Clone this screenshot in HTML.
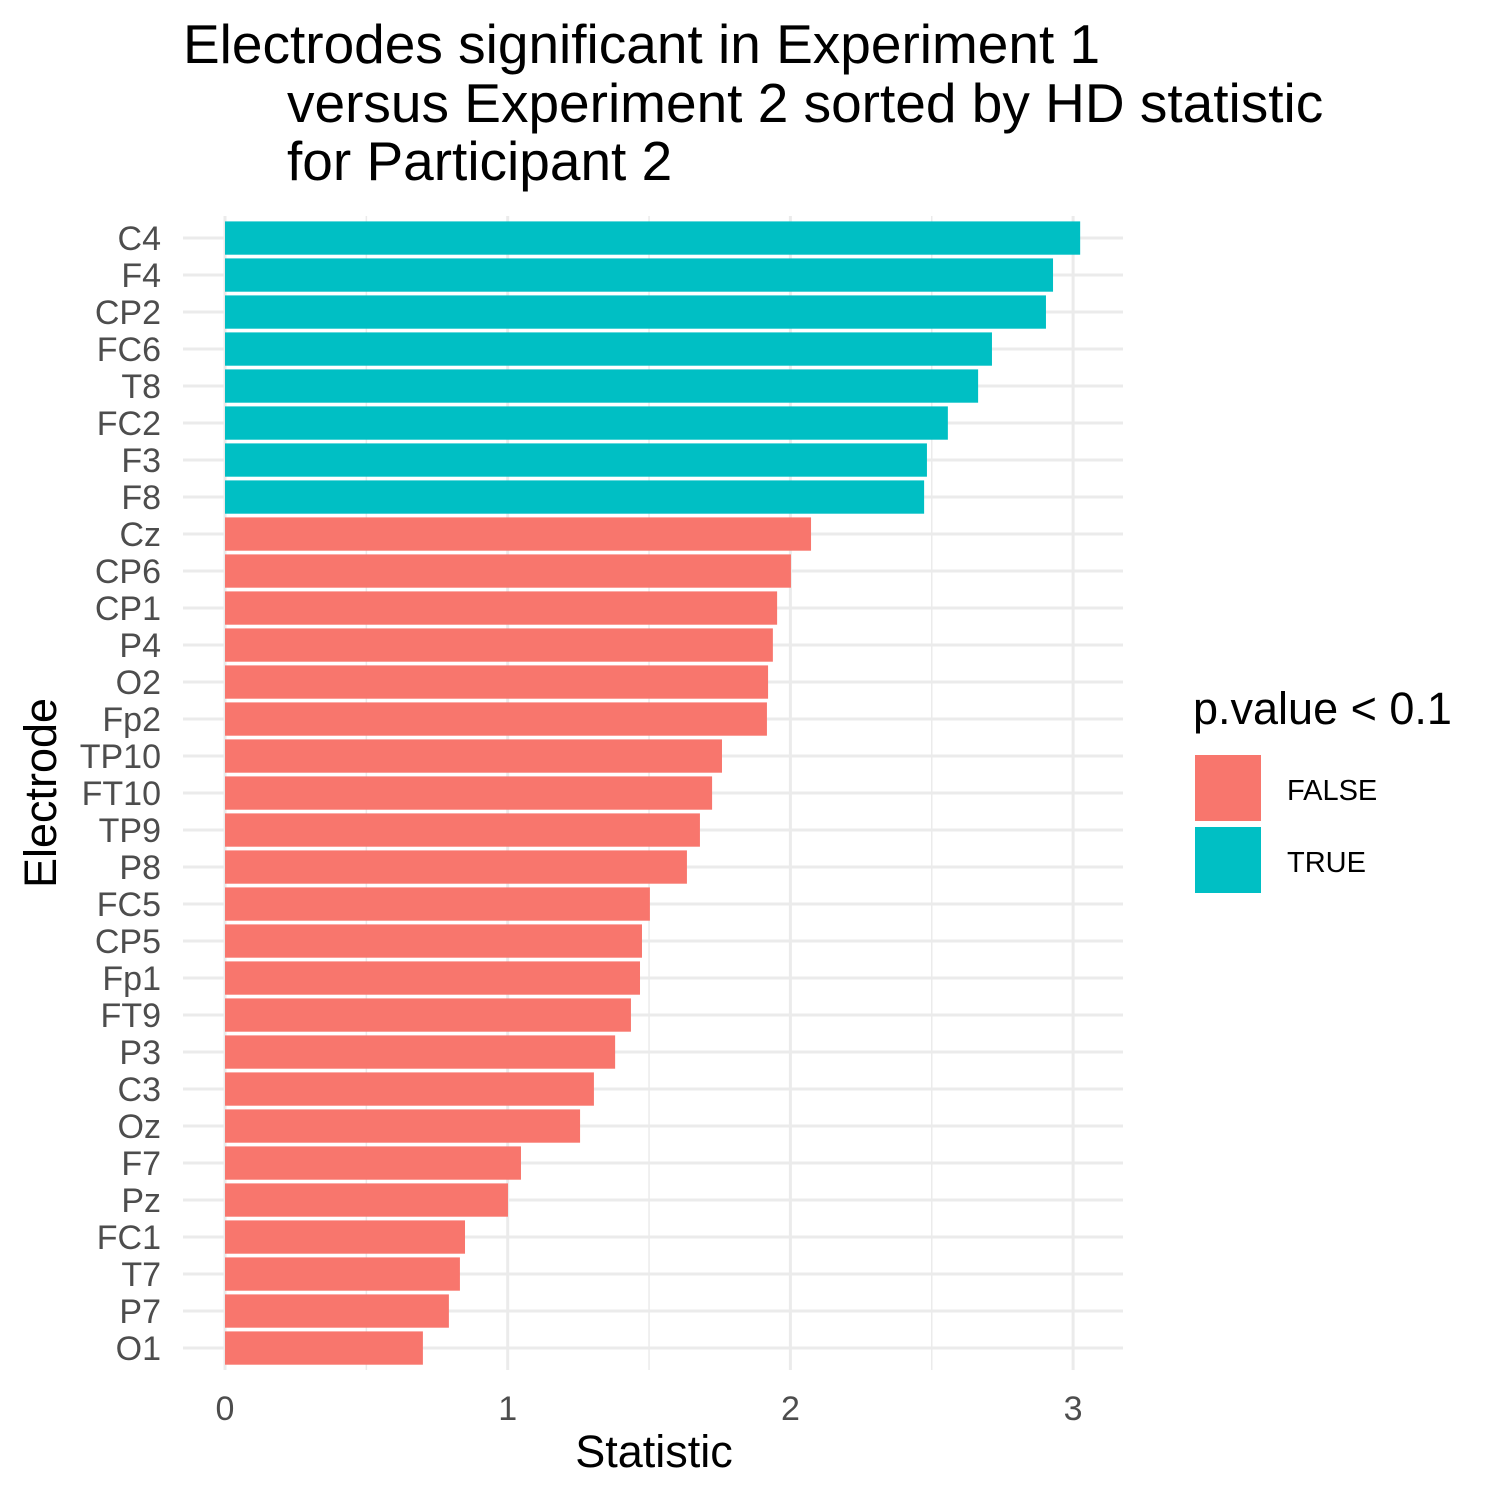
<!DOCTYPE html>
<html><head><meta charset="utf-8"><style>
body{margin:0;background:#fff;}
svg{display:block;font-family:"Liberation Sans",Arial,sans-serif;}
</style></head><body>
<svg id="chart" width="1500" height="1500">
<text x="183" y="63" font-size="55" fill="#000">Electrodes significant in Experiment 1</text>
<text x="287" y="122" font-size="55" fill="#000">versus Experiment 2 sorted by HD statistic</text>
<text x="287" y="180" font-size="55" fill="#000">for Participant 2</text>
<g id="grid"></g><g id="bars"></g><g id="ylabels"></g><g id="xlabels"></g>
<text x="654" y="1467" font-size="45" text-anchor="middle">Statistic</text>
<text transform="translate(56,793) rotate(-90)" font-size="45" text-anchor="middle">Electrode</text>
<g>
<text x="1193" y="724" font-size="45">p.value &lt; 0.1</text>
<rect x="1195" y="755" width="66" height="66" fill="#F8766D"/>
<text x="1287" y="800" font-size="29">FALSE</text>
<rect x="1195" y="827" width="66" height="66" fill="#00BFC4"/>
<text x="1287" y="872" font-size="29">TRUE</text>
</g>
</svg>
<script>
const electrodes=["C4","F4","CP2","FC6","T8","FC2","F3","F8","Cz","CP6","CP1","P4","O2","Fp2","TP10","FT10","TP9","P8","FC5","CP5","Fp1","FT9","P3","C3","Oz","F7","Pz","FC1","T7","P7","O1"];
const statValues=[3.025,2.929,2.904,2.713,2.664,2.557,2.483,2.473,2.073,2.002,1.953,1.938,1.921,1.917,1.758,1.723,1.680,1.634,1.503,1.475,1.468,1.436,1.380,1.305,1.256,1.047,1.001,0.849,0.831,0.792,0.700];
const significant=[true,true,true,true,true,true,true,true,false,false,false,false,false,false,false,false,false,false,false,false,false,false,false,false,false,false,false,false,false,false,false];
const xTicks=[0,1,2,3];
const xMinor=[0.5,1.5,2.5];
const NS="http://www.w3.org/2000/svg";
const x=v=>225+v*282.7;
const y=i=>238+i*37;
const L=183,R=1123,T=216,B=1370;
function mk(tag,attrs,parent){const e=document.createElementNS(NS,tag);for(const k in attrs)e.setAttribute(k,attrs[k]);document.getElementById(parent).appendChild(e);return e;}
xMinor.forEach(v=>{const e=mk("line",{x1:x(v),x2:x(v),y1:T,y2:B,stroke:"#ebebeb","stroke-width":1.5},"grid");

});
xTicks.forEach(v=>{const e=mk("line",{x1:x(v),x2:x(v),y1:T,y2:B,stroke:"#ebebeb","stroke-width":3},"grid");


const t=mk("text",{x:x(v),y:1420,"font-size":34,fill:"#4d4d4d","text-anchor":"middle"},"xlabels");t.textContent=v;

});
electrodes.forEach((n,i)=>{const g=mk("line",{x1:L,x2:R,y1:y(i),y2:y(i),stroke:"#ebebeb","stroke-width":3},"grid");


const b=mk("rect",{x:x(0),y:y(i)-16.6,width:x(statValues[i])-x(0),height:33.3,fill:significant[i]?"#00BFC4":"#F8766D"},"bars");


const t=mk("text",{x:161,y:y(i)+12,"font-size":34,fill:"#4d4d4d","text-anchor":"end"},"ylabels");t.textContent=n;

});
</script>
</body></html>
